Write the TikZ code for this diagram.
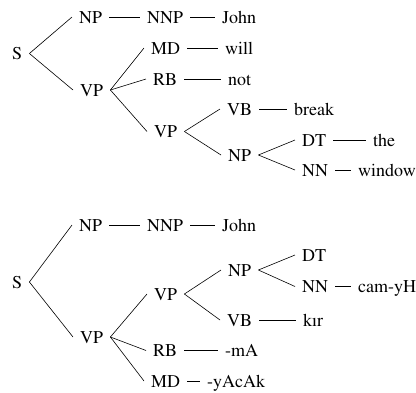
\documentclass[tikz,border=0pt]{standalone}
\usepackage[T1]{fontenc}
\usepackage{times}
\begin{document}
\begin{tikzpicture}[x=1pt,y=-1pt,
  lbl/.style={anchor=west,inner xsep=7pt,inner ysep=0pt,text height=12pt,text depth=0pt,
    font=\rmfamily\fontsize{18}{20}\selectfont},
  edge/.style={line width=0.6pt}]
\useasboundingbox (0,0) rectangle (416,392);
% ---------- English tree ----------
\node[lbl] (s1)   at (5,53.5)   {S};
\node[lbl] (np1)  at (72,17)    {NP};
\node[lbl] (nnp1) at (140,17)   {NNP};
\node[lbl] (john1) at (215,17)  {John};
\node[lbl] (vp1)  at (73,90)    {VP};
\node[lbl] (md1)  at (144,48)   {MD};
\node[lbl] (will) at (218,48)   {will};
\node[lbl] (rb1)  at (146,79)   {RB};
\node[lbl] (not)  at (221,79)   {not};
\node[lbl] (vp2)  at (147,131.5) {VP};
\node[lbl] (vb1)  at (220,109)  {VB};
\node[lbl] (brk)  at (287,109)  {break};
\node[lbl] (np2)  at (221,155)  {NP};
\node[lbl] (dt1)  at (295,140)  {DT};
\node[lbl] (the)  at (366,140)  {the};
\node[lbl] (nn1)  at (295,170)  {NN};
\node[lbl] (win)  at (351,170)  {window};
\draw[edge] (s1.east) -- (np1.west);
\draw[edge] (s1.east) -- (vp1.west);
\draw[edge] (np1.east) -- (nnp1.west);
\draw[edge] (nnp1.east) -- (john1.west);
\draw[edge] (vp1.east) -- (md1.west);
\draw[edge] (vp1.east) -- (rb1.west);
\draw[edge] (vp1.east) -- (vp2.west);
\draw[edge] (md1.east) -- (will.west);
\draw[edge] (rb1.east) -- (not.west);
\draw[edge] (vp2.east) -- (vb1.west);
\draw[edge] (vp2.east) -- (np2.west);
\draw[edge] (vb1.east) -- (brk.west);
\draw[edge] (np2.east) -- (dt1.west);
\draw[edge] (np2.east) -- (nn1.west);
\draw[edge] (dt1.east) -- (the.west);
\draw[edge] (nn1.east) -- (win.west);
% ---------- Turkish tree ----------
\node[lbl] (s2)   at (5,282)    {S};
\node[lbl] (np3)  at (72,225)   {NP};
\node[lbl] (nnp2) at (140,225)  {NNP};
\node[lbl] (john2) at (215,225) {John};
\node[lbl] (vp3)  at (73,337)   {VP};
\node[lbl] (vp4)  at (147,294)  {VP};
\node[lbl] (np4)  at (221,270)  {NP};
\node[lbl] (dt2)  at (295,255)  {DT};
\node[lbl] (nn2)  at (295,286.5) {NN};
\node[lbl] (cam)  at (351,286.5) {cam-yH};
\node[lbl] (vb2)  at (220,320)  {VB};
\node[lbl] (kir)  at (296,320)  {k\i r};
\node[lbl] (rb2)  at (146,350.5) {RB};
\node[lbl] (ma)   at (218,350.5) {-mA};
\node[lbl] (md2)  at (144,381)  {MD};
\node[lbl] (yacak) at (200,381) {-yAcAk};
\draw[edge] (s2.east) -- (np3.west);
\draw[edge] (s2.east) -- (vp3.west);
\draw[edge] (np3.east) -- (nnp2.west);
\draw[edge] (nnp2.east) -- (john2.west);
\draw[edge] (vp3.east) -- (vp4.west);
\draw[edge] (vp3.east) -- (rb2.west);
\draw[edge] (vp3.east) -- (md2.west);
\draw[edge] (vp4.east) -- (np4.west);
\draw[edge] (vp4.east) -- (vb2.west);
\draw[edge] (np4.east) -- (dt2.west);
\draw[edge] (np4.east) -- (nn2.west);
\draw[edge] (nn2.east) -- (cam.west);
\draw[edge] (vb2.east) -- (kir.west);
\draw[edge] (rb2.east) -- (ma.west);
\draw[edge] (md2.east) -- (yacak.west);
\end{tikzpicture}
\end{document}
